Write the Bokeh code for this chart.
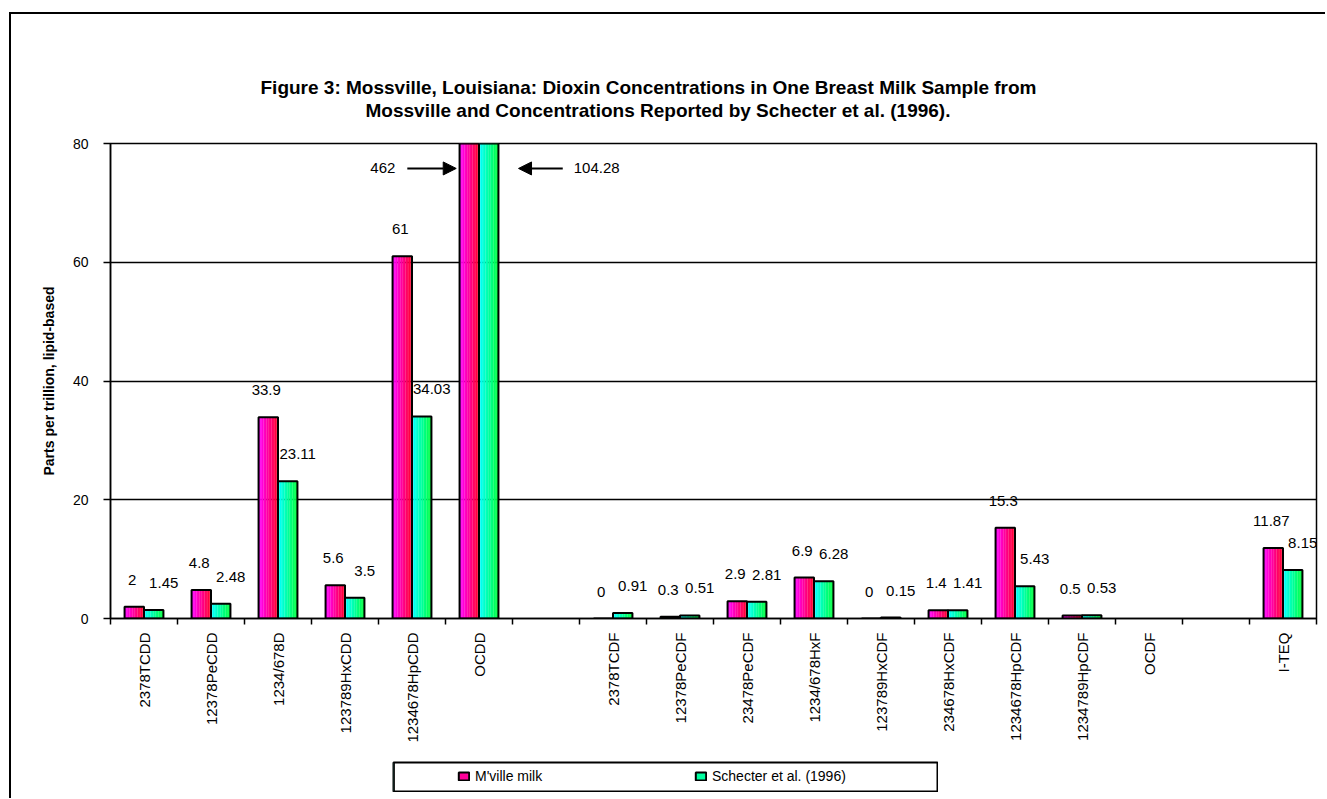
import math
from bokeh.plotting import figure
from bokeh.layouts import column, row
from bokeh.models import (Range1d, FixedTicker, ColumnDataSource, Label, Arrow, NormalHead,
                          Legend, LegendItem, Title, Spacer)
from bokeh.core.properties import value
from bokeh.embed import file_html
from bokeh.resources import INLINE

# ---------------- data ----------------
categories = ["2378TCDD", "12378PeCDD", "1234/678D", "123789HxCDD", "1234678HpCDD", "OCDD", "",
              "2378TCDF", "12378PeCDF", "23478PeCDF", "1234/678HxF", "123789HxCDF", "234678HxCDF",
              "1234678HpCDF", "1234789HpCDF", "OCDF", "", "I-TEQ"]
mville = [2, 4.8, 33.9, 5.6, 61, 462, None, 0, 0.3, 2.9, 6.9, 0, 1.4, 15.3, 0.5, None, None, 11.87]
schecter = [1.45, 2.48, 23.11, 3.5, 34.03, 104.28, None, 0.91, 0.51, 2.81, 6.28, 0.15, 1.41, 5.43, 0.53,
            None, None, 8.15]
series_names = ["M'ville milk", "Schecter et al. (1996)"]
y_ticks = [0, 20, 40, 60, 80]
title_lines = ["Figure 3: Mossville, Louisiana:  Dioxin Concentrations in One Breast Milk Sample from",
               "Mossville and Concentrations Reported by Schecter et al. (1996)."]
y_label = "Parts per trillion, lipid-based"

# ---------------- style ----------------
FONT = "Liberation Sans"
Y_MAX = 80
BAR_W = 0.29
N_STRIPS = 12
grads = [((255, 0, 255), (255, 0, 48)), ((0, 255, 255), (0, 255, 64))]


def lerp(c0, c1, t):
    return "#%02x%02x%02x" % tuple(int(round(a + (b - a) * t)) for a, b in zip(c0, c1))


p = figure(width=1314, height=747, x_range=Range1d(0, len(categories)), y_range=Range1d(0, Y_MAX),
           output_backend="svg", toolbar_location=None,
           min_border_left=99, min_border_right=9, min_border_top=129, min_border_bottom=143)
p.title.text = ""
p.background_fill_color = "white"
p.border_fill_color = "white"
p.outline_line_color = "black"
p.outline_line_width = 1.5

# y axis
p.yaxis.ticker = FixedTicker(ticks=y_ticks)
p.yaxis.major_tick_out = 7
p.yaxis.major_tick_in = 0
p.yaxis.minor_tick_out = 0
p.yaxis.minor_tick_in = 0
p.yaxis.axis_line_color = "black"
p.yaxis.axis_line_width = 1.5
p.yaxis.major_tick_line_color = "black"
p.yaxis.major_tick_line_width = 1.5
p.yaxis.major_label_text_font = FONT
p.yaxis.major_label_text_font_size = "14px"
p.yaxis.major_label_text_color = "black"
p.yaxis.major_label_standoff = 15
p.yaxis.axis_label = y_label
p.yaxis.axis_label_text_font = FONT
p.yaxis.axis_label_text_font_size = "14px"
p.yaxis.axis_label_text_font_style = "bold"
p.yaxis.axis_label_text_color = "black"
p.yaxis.axis_label_standoff = 13

p.ygrid.ticker = FixedTicker(ticks=y_ticks)
p.ygrid.grid_line_color = "black"
p.ygrid.grid_line_width = 1.5
p.xgrid.visible = False

# x axis
centers = [i + 0.5 for i, c in enumerate(categories) if c]
p.xaxis.ticker = FixedTicker(ticks=centers, minor_ticks=list(range(len(categories) + 1)))
p.xaxis.major_label_overrides = {i + 0.5: c for i, c in enumerate(categories) if c}
p.xaxis.major_label_orientation = math.pi / 2
p.xaxis.major_tick_line_color = None
p.xaxis.major_tick_out = 0
p.xaxis.major_tick_in = 0
p.xaxis.minor_tick_out = 6
p.xaxis.minor_tick_in = 0
p.xaxis.minor_tick_line_color = "black"
p.xaxis.minor_tick_line_width = 1.5
p.xaxis.axis_line_color = "black"
p.xaxis.axis_line_width = 1.5
p.xaxis.major_label_standoff = 8
p.xaxis.major_label_text_font = FONT
p.xaxis.major_label_text_font_size = "15px"
p.xaxis.major_label_text_color = "black"

# bars (gradient strips + outline)
for s, vals in enumerate([mville, schecter]):
    sx, stop, scol = [], [], []
    ox, otop = [], []
    lx, ly, lt = [], [], []
    w = BAR_W / N_STRIPS
    for i, v in enumerate(vals):
        if v is None:
            continue
        c = i + 0.5
        left = c - BAR_W if s == 0 else c
        for k in range(N_STRIPS):
            sx.append(left + (k + 0.5) * w)
            stop.append(v)
            scol.append(lerp(grads[s][0], grads[s][1], k / (N_STRIPS - 1)))
        ox.append(left + BAR_W / 2)
        otop.append(v)
        if v <= Y_MAX:
            lx.append(left + BAR_W / 2)
            ly.append(v)
            lt.append(f"{v:g}")
    p.vbar(x="x", top="top", bottom=0, width=w * 1.1, fill_color="color", line_color=None,
           source=ColumnDataSource(dict(x=sx, top=stop, color=scol)))
    p.vbar(x=ox, top=otop, bottom=0, width=BAR_W, fill_color=None, line_color="black", line_width=2)
    p.text(x=lx, y=ly, text=lt, x_offset=(-2 if s == 0 else 10), y_offset=-27,
           text_align="center", text_baseline="middle", text_font=value(FONT),
           text_font_size="15px", text_color="black")

# off-scale OCDD values with arrows
oi = categories.index("OCDD")
ya = 75.8
m_edge = oi + 0.5 - BAR_W
s_edge = oi + 0.5 + BAR_W
p.add_layout(Arrow(end=NormalHead(size=13, fill_color="black", line_color="black"),
                   x_start=m_edge - 0.78, y_start=ya, x_end=m_edge - 0.05, y_end=ya,
                   line_color="black", line_width=2))
p.add_layout(Arrow(end=NormalHead(size=13, fill_color="black", line_color="black"),
                   x_start=s_edge + 0.96, y_start=ya, x_end=s_edge + 0.3, y_end=ya,
                   line_color="black", line_width=2))
p.add_layout(Label(x=m_edge - 0.78, y=ya, x_offset=-12, text=f"{mville[oi]:g}", text_align="right",
                   text_baseline="middle", text_font=FONT, text_font_size="15px", text_color="black"))
p.add_layout(Label(x=s_edge + 0.96, y=ya, x_offset=11, text=f"{schecter[oi]:g}", text_align="left",
                   text_baseline="middle", text_font=FONT, text_font_size="15px", text_color="black"))

# title (two lines, nearest line added first)
p.add_layout(Title(text=title_lines[1], align="left", offset=255, text_font=FONT, text_font_size="19px",
                   text_font_style="bold", text_color="black", standoff=46), "above")
p.add_layout(Title(text=title_lines[0], align="left", offset=150, text_font=FONT, text_font_size="19px",
                   text_font_style="bold", text_color="black", standoff=-46), "above")

# legend box as a small companion figure
lf = figure(width=546, height=31, x_range=Range1d(0, 1), y_range=Range1d(0, 1), title=None,
            output_backend="svg", toolbar_location=None, x_axis_location=None, y_axis_location=None,
            min_border=1)
lf.xgrid.visible = False
lf.ygrid.visible = False
lf.outline_line_color = "black"
lf.outline_line_width = 2
lf.background_fill_color = "white"
lf.border_fill_color = "white"
items = []
for j in range(2):
    # legend-only swatch renderer, kept outside the visible range
    r = lf.vbar(x=[-5], top=[1], width=0.1, fill_color=lerp(grads[j][0], grads[j][1], 0.5),
                line_color="black", line_width=2)
    items.append(LegendItem(label=series_names[j], renderers=[r]))
legend = Legend(items=items, location=(64, 7), orientation="horizontal", border_line_color=None,
                background_fill_alpha=0, padding=0, margin=0, spacing=0, glyph_width=13,
                glyph_height=10, label_width=219, label_height=14, label_standoff=5,
                label_text_font=FONT, label_text_font_size="14px", label_text_color="black")
lf.add_layout(legend, "center")

layout = column(p, row(Spacer(width=381, height=31), lf), Spacer(width=10, height=6),
                styles={"border-left": "2px solid black", "border-top": "2px solid black",
                        "margin-left": "9px", "margin-top": "12px"})

open("out.html", "w").write(file_html(layout, INLINE))
